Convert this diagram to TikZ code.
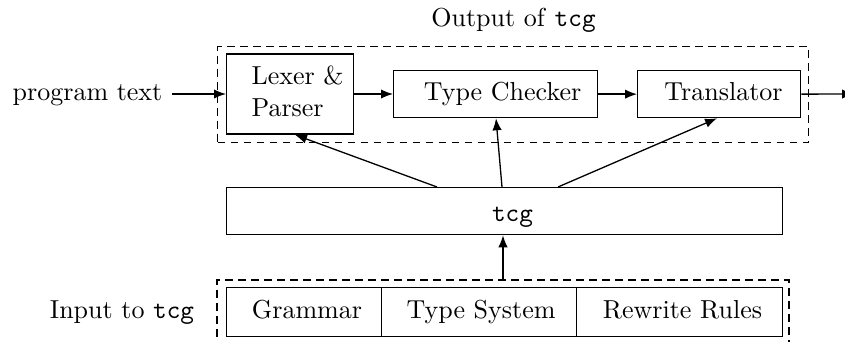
\documentclass[tikz,border=0pt]{standalone}
\usetikzlibrary{arrows.meta}
\begin{document}
\begin{tikzpicture}[x=0.3846pt,y=-0.3846pt,
  box/.style={draw,line width=0.5pt,inner sep=0pt,anchor=north west},
  lbl/.style={inner sep=0pt,anchor=base},
  dsh/.style={draw,line width=0.5pt,dash pattern=on 3pt off 2pt},
  arr/.style={-{Latex[length=4.6pt,width=3.6pt]},line width=0.5pt}]
\useasboundingbox (0,0) rectangle (845,342);
% output group
\node[box,dsh,minimum width=591*0.3846pt,minimum height=96*0.3846pt] (outg) at (217,46) {};
\node[lbl] (outl) at (513.5,26.7) {Output of \texttt{tcg}};
\node[box,minimum width=127*0.3846pt,minimum height=80*0.3846pt] (lex) at (226,53.5) {};
\node[box,minimum width=204*0.3846pt,minimum height=47*0.3846pt] (tc) at (393,70) {};
\node[box,minimum width=163*0.3846pt,minimum height=47*0.3846pt] (tr) at (637,70) {};
\node[lbl,anchor=base west] (lexl1) at (251,85) {Lexer \&};
\node[lbl,anchor=base west] (lexl2) at (251,116.7) {Parser};
\node[lbl] (tcl) at (502.5,100) {Type Checker};
\node[lbl] (trl) at (723.5,100) {Translator};
\node[lbl] (prog) at (87.5,100) {program text};
\coordinate (progE) at (172,94);
\coordinate (outE) at (854,94);
% tcg
\node[box,minimum width=556*0.3846pt,minimum height=47*0.3846pt] (tcg) at (226,187) {};
\node[lbl] (tcgl) at (512.5,221.7) {\texttt{tcg}};
% input group
\path[dsh] (217,350) |- (789,280) coordinate (ingNE) -- (789,350);
\coordinate (ingT) at (503,280);
\node[box,minimum width=155*0.3846pt,minimum height=49*0.3846pt] (gr) at (226,287) {};
\node[box,minimum width=195*0.3846pt,minimum height=49*0.3846pt] (ts) at (381,287) {};
\node[box,minimum width=206*0.3846pt,minimum height=49*0.3846pt] (rr) at (576,287) {};
\node[lbl] (inl) at (122,318.3) {Input to \texttt{tcg}};
\node[lbl] (grl) at (307,318.3) {Grammar};
\node[lbl] (tsl) at (481,318.3) {Type System};
\node[lbl] (rrl) at (682.5,318.3) {Rewrite Rules};
% connectors
\draw[arr] (progE) -- (lex.west |- progE);
\draw[arr] (lex.east |- progE) -- (tc.west |- progE);
\draw[arr] (tc.east) -- (tr.west);
\draw[arr] (tr.east) -- (outE);
\draw[arr] (tcg.north west -| 437,0) -- (lex.south west -| 295,0);
\draw[arr] (tcg.north west -| 502,0) -- (tc.south west -| 496,0);
\draw[arr] (tcg.north west -| 558,0) -- (tr.south west -| 717,0);
\draw[arr] (ingT) -- (tcg.south west -| ingT);
\end{tikzpicture}
\end{document}
